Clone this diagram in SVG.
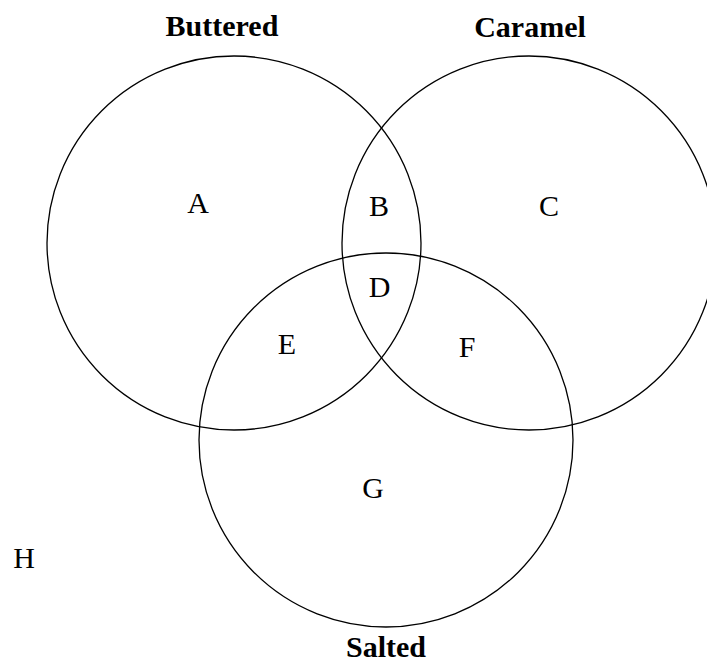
<svg xmlns="http://www.w3.org/2000/svg" width="707" height="663" viewBox="0 0 707 663">
<style>
.set{fill:none;stroke:#000;stroke-width:1.3}
.lbl{font-family:"Liberation Serif","Times New Roman",serif;font-size:30px;font-weight:bold;text-anchor:middle;fill:#000}
.reg{font-family:"Liberation Serif","Times New Roman",serif;font-size:30px;text-anchor:middle;fill:#000}
</style>
<rect width="707" height="663" fill="#fff"/>
<g id="buttered"><circle class="set" cx="234" cy="243" r="187"/><text class="lbl" x="222" y="36">Buttered</text></g>
<g id="caramel"><circle class="set" cx="529" cy="243" r="187"/><text class="lbl" x="530" y="37">Caramel</text></g>
<g id="salted"><circle class="set" cx="386" cy="440" r="187"/><text class="lbl" x="386" y="657">Salted</text></g>
<g id="regions">
<text class="reg" x="198" y="213">A</text>
<text class="reg" x="379" y="216">B</text>
<text class="reg" x="549" y="216">C</text>
<text class="reg" x="379.5" y="297">D</text>
<text class="reg" x="287" y="354">E</text>
<text class="reg" x="467" y="357">F</text>
<text class="reg" x="373" y="498">G</text>
<text class="reg" x="24" y="568">H</text>
</g>
<g id="connectors"></g>
</svg>
